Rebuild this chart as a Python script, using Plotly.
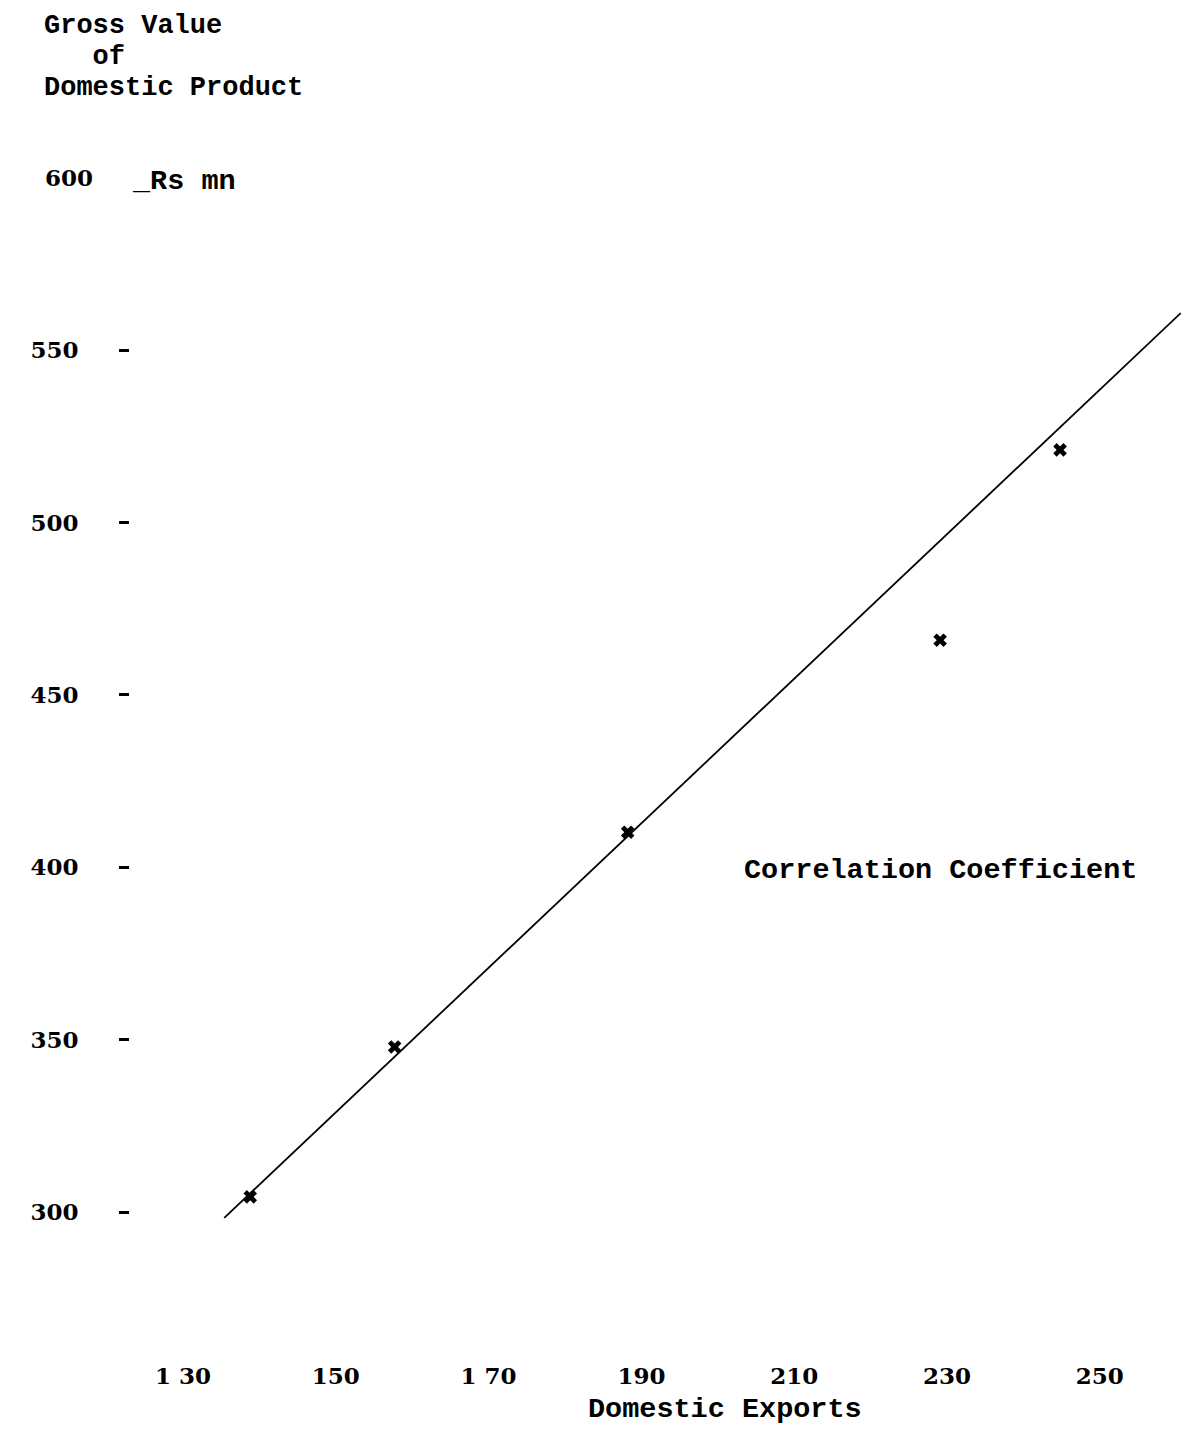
import plotly.graph_objects as go

# Data
exports = [138.8, 157.7, 188.2, 229.1, 244.8]          # Domestic Exports (Rs mn)
gdp = [304.4, 347.9, 410.2, 465.9, 521.1]              # Gross Value of Domestic Product (Rs mn)
fit_x = [135.4, 260.6]                                 # regression line ends
fit_y = [298.3, 560.8]

x_ticks = [130, 150, 170, 190, 210, 230, 250]
x_ticktext = ["1 30", "150", "1 70", "190", "210", "230", "250"]
y_ticks = [300, 350, 400, 450, 500, 550]
y_top_tick = [600]

MONO = "Liberation Mono, Courier New, monospace"
NUM = "DejaVu Serif, Liberation Serif, serif"
TXT = dict(family=MONO, size=28.5, color="black")
TTL = dict(family=MONO, size=27, color="black")

fig = go.Figure()
fig.add_trace(go.Scatter(x=fit_x, y=fit_y, mode="lines",
                         line=dict(color="black", width=1.8), showlegend=False))
fig.add_trace(go.Scatter(x=exports, y=gdp, mode="markers",
                         marker=dict(symbol="x", size=12, color="black",
                                     line=dict(width=0)), showlegend=False))
fig.add_trace(go.Scatter(x=[], y=[], yaxis="y2", showlegend=False))

fig.update_layout(
    width=1181, height=1430,
    margin=dict(l=130, r=0, t=170, b=90),
    paper_bgcolor="white", plot_bgcolor="white",
    xaxis=dict(range=[123.06, 260.63], tickvals=x_ticks, ticktext=x_ticktext,
               showgrid=False, zeroline=False, showline=False, ticks="",
               ticklabelstandoff=20,
               tickfont=dict(family=NUM, size=23, color="black", weight="bold")),
    yaxis=dict(range=[262.87, 602.3], tickvals=y_ticks,
               showgrid=False, zeroline=False, showline=False,
               ticks="outside", ticklen=10, tickwidth=2.5, tickcolor="black",
               ticklabelstandoff=36,
               tickfont=dict(family=NUM, size=23, color="black", weight="bold")),
    yaxis2=dict(range=[262.87, 602.3], overlaying="y", side="left",
                tickvals=y_top_tick, showgrid=False, zeroline=False,
                showline=False, ticks="", ticklabelstandoff=36,
                tickfont=dict(family=NUM, size=23, color="black", weight="bold")),
    annotations=[
        dict(text="<b>Gross Value</b>", xref="paper", yref="paper",
             x=-0.0838, y=1.1231, xanchor="left", yanchor="middle",
             showarrow=False, font=TTL),
        dict(text="<b>&nbsp;&nbsp;&nbsp;of</b>", xref="paper", yref="paper",
             x=-0.0838, y=1.0966, xanchor="left", yanchor="middle",
             showarrow=False, font=TTL),
        dict(text="<b>Domestic Product</b>", xref="paper", yref="paper",
             x=-0.0838, y=1.0701, xanchor="left", yanchor="middle",
             showarrow=False, font=TTL),
        dict(text="<b>_Rs mn</b>", xref="paper", yref="y", x=0.0, y=599,
             xanchor="left", yanchor="middle", showarrow=False, font=TXT),
        dict(text="<b>Correlation Coefficient</b>", xref="x", yref="y",
             x=203.2, y=399.2, xanchor="left", yanchor="middle",
             showarrow=False, font=TXT),
        dict(text="<b>Domestic Exports</b>", xref="paper", yref="paper",
             x=0.566, y=-0.0598, xanchor="center", yanchor="middle",
             showarrow=False, font=TXT),
    ],
)

fig.write_html("out.html", config={"displayModeBar": False},
               post_script="document.body.style.margin='0';document.body.style.overflow='hidden';")
